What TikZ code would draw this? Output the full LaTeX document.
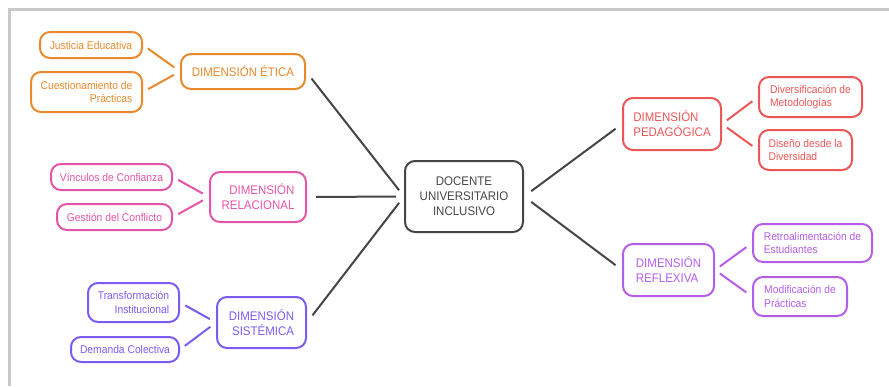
\documentclass[tikz,border=0pt]{standalone}
\usepackage{fontspec}
\setmainfont{Liberation Sans}[FakeStretch=0.92]
\definecolor{cOr}{HTML}{E8892B}
\definecolor{cPk}{HTML}{E455A8}
\definecolor{cBl}{HTML}{7B5CF0}
\definecolor{cRd}{HTML}{EB5757}
\definecolor{cVi}{HTML}{B45EE8}
\definecolor{cCt}{HTML}{454545}
\definecolor{cFr}{HTML}{C8C8C8}
\tikzset{
  box/.style={draw, rounded corners=10pt, line width=2pt, inner sep=0pt, align=center},
  big/.style={box, font=\fontsize{12.5}{15}\selectfont},
  small/.style={box, font=\fontsize{11.2}{13.3}\selectfont},
  sz/.style 2 args={minimum width=#1pt, minimum height=#2pt},
  conn/.style={line width=2pt, shorten <=6pt, shorten >=7pt},
  hub/.style={line width=2pt, draw=cCt, shorten <=9pt, shorten >=8pt}
}
\begin{document}
\begin{tikzpicture}[x=1pt,y=-1pt]
\useasboundingbox (0,0) rectangle (889,386);
\draw[cFr, line width=2.2pt] (9.5,386) -- (9.5,9.5) -- (889,9.5);

% center
\node[big, draw=cCt, text=cCt, sz={118}{71}] (ctr) at (464,196.5) {DOCENTE\\UNIVERSITARIO\\INCLUSIVO};

% left: etica
\node[big, draw=cOr, text=cOr, sz={124}{35}] (eti) at (243,71.5) {DIMENSIÓN ÉTICA};
\node[small, draw=cOr, text=cOr, sz={102}{26}] (jus) at (91,45) {Justicia Educativa};
\node[small, draw=cOr, text=cOr, sz={111}{40}, align=right] (cue) at (86.5,92) {Cuestionamiento de\\Prácticas};

% left: relacional
\node[big, draw=cPk, text=cPk, sz={96}{50}, align=right] (rel) at (258,197) {DIMENSIÓN\\RELACIONAL};
\node[small, draw=cPk, text=cPk, sz={121}{26}] (vin) at (111.5,177) {Vínculos de Confianza};
\node[small, draw=cPk, text=cPk, sz={115}{26}] (ges) at (114.5,217) {Gestión del Conflicto};

% left: sistemica
\node[big, draw=cBl, text=cBl, sz={89}{51}, align=right] (sis) at (261.5,322.5) {DIMENSIÓN\\SISTÉMICA};
\node[small, draw=cBl, text=cBl, sz={91}{39}, align=right] (tra) at (133.5,302.5) {Transformación\\Institucional};
\node[small, draw=cBl, text=cBl, sz={108}{25}] (dem) at (125,349.5) {Demanda Colectiva};

% right: pedagogica
\node[big, draw=cRd, text=cRd, sz={98}{52}, align=left] (ped) at (672,124) {DIMENSIÓN\\PEDAGÓGICA};
\node[small, draw=cRd, text=cRd, sz={103}{40}, align=left] (div) at (810.5,97) {Diversificación de\\Metodologías};
\node[small, draw=cRd, text=cRd, sz={93}{40}, align=left] (dis) at (805.5,150) {Diseño desde la\\Diversidad};

% right: reflexiva
\node[big, draw=cVi, text=cVi, sz={91}{52}, align=left] (ref) at (668.5,270) {DIMENSIÓN\\REFLEXIVA};
\node[small, draw=cVi, text=cVi, sz={119}{38}, align=left] (ret) at (812.5,243) {Retroalimentación de\\Estudiantes};
\node[small, draw=cVi, text=cVi, sz={94}{39}, align=left] (mod) at (800,296.5) {Modificación de\\Prácticas};

% hub connectors
\draw[hub] (eti.east) -- (ctr.west);
\draw[hub] (rel.east) -- (ctr.west);
\draw[hub] (sis.east) -- (ctr.west);
\draw[hub] (ctr.east) -- (ped.west);
\draw[hub] (ctr.east) -- (ref.west);

% child connectors
\draw[conn, cOr] (jus.east) -- (eti.west);
\draw[conn, cOr] (cue.east) -- (eti.west);
\draw[conn, cPk] (vin.east) -- (rel.west);
\draw[conn, cPk] (ges.east) -- (rel.west);
\draw[conn, cBl] (tra.east) -- (sis.west);
\draw[conn, cBl] (dem.east) -- (sis.west);
\draw[conn, cRd] (ped.east) -- (div.west);
\draw[conn, cRd] (ped.east) -- (dis.west);
\draw[conn, cVi] (ref.east) -- (ret.west);
\draw[conn, cVi] (ref.east) -- (mod.west);
\end{tikzpicture}
\end{document}
